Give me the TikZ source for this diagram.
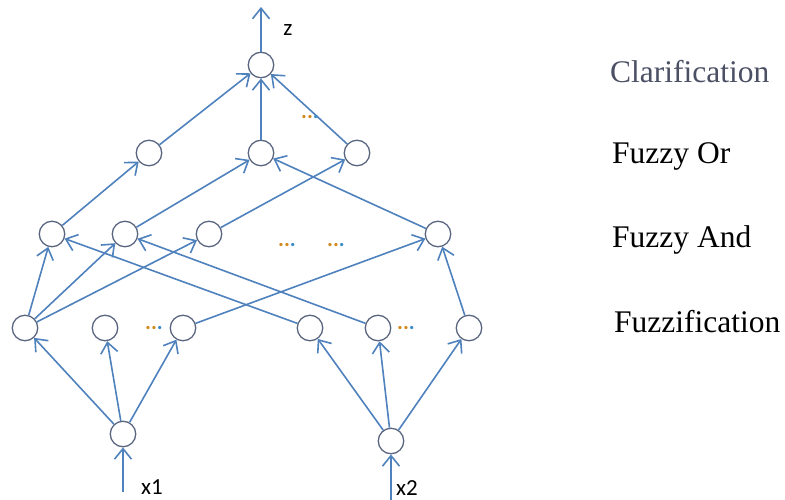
\documentclass[tikz,border=0pt]{standalone}
\usepackage{fontspec}
\setmainfont{Liberation Serif}
\newfontfamily\lblfont{Carlito}
\usetikzlibrary{arrows.meta}
\definecolor{edgeblue}{HTML}{4F81BD}
\definecolor{circgray}{HTML}{5A6680}
\definecolor{dotor}{HTML}{D08A1E}
\definecolor{dotbl}{HTML}{3A8CC8}
\definecolor{clarcol}{HTML}{4C5064}
\tikzset{
  neuron/.style={circle, draw=circgray, line width=1.3pt, minimum size=25.5pt, inner sep=0pt, fill=white},
  conn/.style={draw=edgeblue, line width=1.6pt, -{Straight Barb[length=10.5pt,width=17pt,line width=1.6pt]}},
  layertext/.style={font=\fontsize{31.5}{35}\selectfont, anchor=west, inner sep=0pt},
  lbl/.style={font=\lblfont\fontsize{23}{26}\selectfont, inner sep=0pt},
  dots/.style={font=\lblfont\bfseries\fontsize{22}{24}\selectfont, inner sep=0pt}
}
\newcommand{\mydots}{\textcolor{dotor}{.}\textcolor{dotor}{.}\textcolor{dotbl}{.}}
\begin{document}
\begin{tikzpicture}[x=1pt,y=-1pt]
\useasboundingbox (0,0) rectangle (785,500);
% nodes
\node[neuron] (Z) at (261,65) {};
\node[neuron] (O1) at (149,153) {};
\node[neuron] (O2) at (261,153) {};
\node[neuron] (O3) at (357,153) {};
\node[neuron] (A1) at (52,234) {};
\node[neuron] (A2) at (125,234) {};
\node[neuron] (A3) at (209,234) {};
\node[neuron] (A4) at (438,234) {};
\node[neuron] (F1) at (25,328) {};
\node[neuron] (F2) at (105,328) {};
\node[neuron] (F3) at (183,328) {};
\node[neuron] (F4) at (310,328) {};
\node[neuron] (F5) at (378,328) {};
\node[neuron] (F6) at (469,328) {};
\node[neuron] (I1) at (123,434) {};
\node[neuron] (I2) at (391,441) {};
\coordinate (zout) at (261,7);
\coordinate (x1in) at (123,492);
\coordinate (x2in) at (391,500);
% edges
\draw[conn] (Z) -- (zout);
\draw[conn] (O1) -- (Z);
\draw[conn] (O2) -- (Z);
\draw[conn] (O3) -- (Z);
\draw[conn] (A1) -- (O1);
\draw[conn] (A2) -- (O2);
\draw[conn] (A3) -- (O3);
\draw[conn] (A4) -- (O2);
\draw[conn] (F1) -- (A1);
\draw[conn] (F1) -- (A2);
\draw[conn] (F1) -- (A3);
\draw[conn] (F3) -- (A4);
\draw[conn] (F4) -- (A1);
\draw[conn] (F5) -- (A2);
\draw[conn] (F6) -- (A4);
\draw[conn] (I1) -- (F1);
\draw[conn] (I1) -- (F2);
\draw[conn] (I1) -- (F3);
\draw[conn] (I2) -- (F4);
\draw[conn] (I2) -- (F5);
\draw[conn] (I2) -- (F6);
\draw[conn] (x1in) -- (I1);
\draw[conn] (x2in) -- (I2);
% labels
\node[lbl] (zl) at (288,30) {z};
\node[lbl] (x1l) at (152,487) {x1};
\node[lbl] (x2l) at (407,488) {x2};
\node[dots] (d1) at (310,117) {\mydots};
\node[dots] (d2) at (287,245) {\mydots};
\node[dots] (d3) at (336,245) {\mydots};
\node[dots] (d4) at (154,328) {\mydots};
\node[dots] (d5) at (406,328) {\mydots};
\node[layertext, text=clarcol] (t1) at (610,72) {Clarification};
\node[layertext] (t2) at (612,156) {Fuzzy Or};
\node[layertext] (t3) at (612,240) {Fuzzy And};
\node[layertext] (t4) at (614,322) {Fuzzification};
\end{tikzpicture}
\end{document}
